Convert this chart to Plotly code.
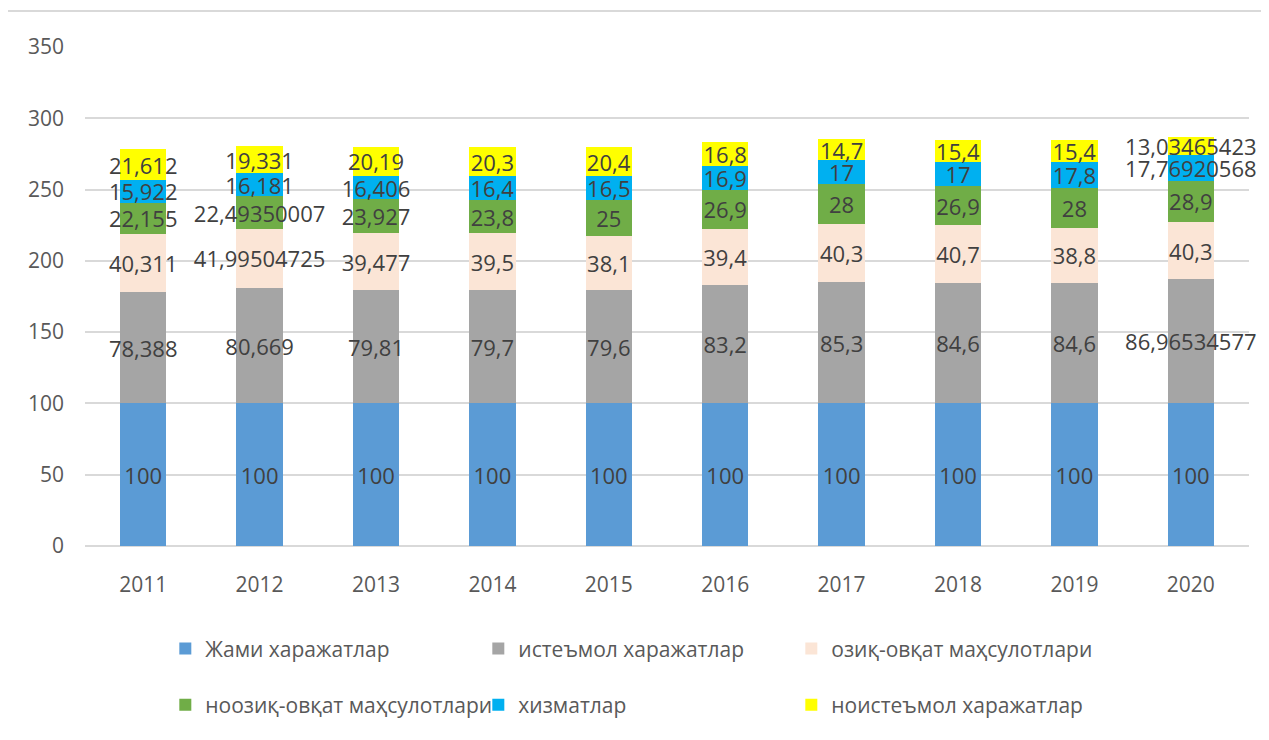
import plotly.graph_objects as go

years = ["2011", "2012", "2013", "2014", "2015", "2016", "2017", "2018", "2019", "2020"]

jami = [100, 100, 100, 100, 100, 100, 100, 100, 100, 100]
istemol = [78.388, 80.669, 79.81, 79.7, 79.6, 83.2, 85.3, 84.6, 84.6, 86.96534577]
ozik = [40.311, 41.99504725, 39.477, 39.5, 38.1, 39.4, 40.3, 40.7, 38.8, 40.3]
noozik = [22.155, 22.49350007, 23.927, 23.8, 25, 26.9, 28, 26.9, 28, 28.9]
xizmat = [15.922, 16.181, 16.406, 16.4, 16.5, 16.9, 17, 17, 17.8, 17.76920568]
noistemol = [21.612, 19.331, 20.19, 20.3, 20.4, 16.8, 14.7, 15.4, 15.4, 13.03465423]

series = [
    ("Жами харажатлар", jami, "#5B9BD5", "legend"),
    ("истеъмол харажатлар", istemol, "#A5A5A5", "legend"),
    ("озиқ-овқат маҳсулотлари", ozik, "#FBE5D6", "legend"),
    ("ноозиқ-овқат маҳсулотлари", noozik, "#70AD47", "legend2"),
    ("хизматлар", xizmat, "#00B0F0", "legend2"),
    ("ноистеъмол харажатлар", noistemol, "#FFFF00", "legend2"),
]

FONT = "Open Sans, Liberation Sans, sans-serif"
TXT = "#404040"

L, T, PW, PH = 77, 39, 1164, 499

fig = go.Figure()
for name, vals, color, lg in series:
    fig.add_trace(go.Bar(
        x=years, y=vals, name=name,
        marker=dict(color=color, line=dict(width=0)),
        text=[str(v).replace(".", ",") for v in vals],
        textposition="inside", insidetextanchor="middle", textangle=0,
        constraintext="none", cliponaxis=False,
        textfont=dict(family=FONT, size=22, color=TXT),
        legend=lg, hoverinfo="skip",
    ))

fig.update_layout(
    barmode="stack", bargap=0.6,
    width=1269, height=740,
    margin=dict(l=L, r=1269 - L - PW, t=T, b=740 - T - PH, autoexpand=False),
    paper_bgcolor="white", plot_bgcolor="white",
    font=dict(family=FONT, color="#595959"),
    legend=dict(orientation="h", x=0.069, xanchor="left", y=-0.206, yanchor="middle",
                entrywidth=268, entrywidthmode="pixels",
                font=dict(family=FONT, size=21, color="#595959"), traceorder="normal"),
    legend2=dict(orientation="h", x=0.069, xanchor="left", y=-0.319, yanchor="middle",
                 entrywidth=268, entrywidthmode="pixels",
                 font=dict(family=FONT, size=21, color="#595959"), traceorder="normal"),
    showlegend=True,
    shapes=[dict(type="rect", xref="paper", yref="paper",
                 x0=(8 - 86) / PW, x1=(1300 - 86) / PW,
                 y0=(545 - 780) / PH, y1=(545 - 10) / PH,
                 line=dict(color="#D9D9D9", width=2), layer="below")],
)
fig.update_xaxes(showgrid=False, showline=False, ticks="", zeroline=False,
                 tickfont=dict(family=FONT, size=21, color="#595959"), ticklabelstandoff=24)
fig.update_yaxes(range=[0, 350], dtick=50, showgrid=True, gridcolor="#D9D9D9", gridwidth=2,
                 zeroline=True, zerolinecolor="#D9D9D9", zerolinewidth=2, showline=False, ticks="",
                 tickfont=dict(family=FONT, size=21, color="#595959"), ticklabelstandoff=20)

fig.write_html("out.html")
